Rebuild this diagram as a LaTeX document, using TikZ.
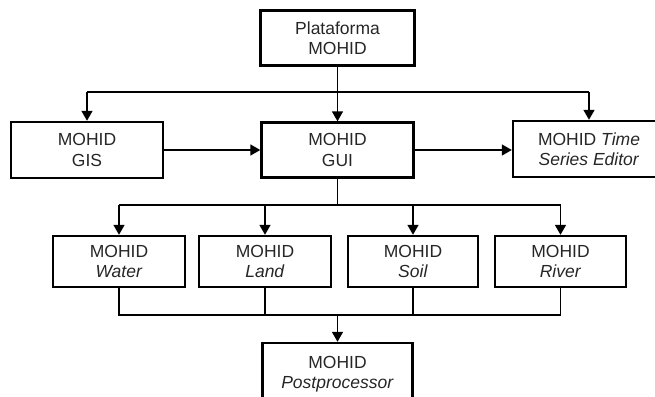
\documentclass[tikz,border=0pt]{standalone}
\usepackage{fontspec}
\setmainfont{Liberation Sans}
\usetikzlibrary{arrows.meta}
\begin{document}
\begin{tikzpicture}[x=1pt,y=-1pt,
  box/.style={draw,line width=2.4pt,align=center,inner sep=0pt,font=\fontsize{17.5}{20.5}\selectfont,text=black!85},
  conn/.style={line width=1.6pt},
  arr/.style={conn,-{Triangle[length=10pt,width=11pt]}}]
\useasboundingbox (0,0) rectangle (655,396);
\clip (0,0) rectangle (655,396);
\node[box,minimum width=154pt,minimum height=55pt] (top) at (337.5,38) {Plataforma\\MOHID};
\node[box,minimum width=152pt,minimum height=56pt] (gis) at (87,150) {MOHID\\GIS};
\node[box,minimum width=152pt,minimum height=55pt] (gui) at (337.5,150) {MOHID\\GUI};
\node[box,minimum width=152pt,minimum height=56pt] (ts) at (589,149) {MOHID \textit{Time}\\\textit{Series Editor}};
\node[box,minimum width=132pt,minimum height=51pt] (water) at (119,261.5) {MOHID\\\textit{Water}};
\node[box,minimum width=132pt,minimum height=51pt] (land) at (265,261.5) {MOHID\\\textit{Land}};
\node[box,minimum width=130pt,minimum height=51pt] (soil) at (413,261.5) {MOHID\\\textit{Soil}};
\node[box,minimum width=131pt,minimum height=51pt] (river) at (560.5,261.5) {MOHID\\\textit{River}};
\node[box,minimum width=150pt,minimum height=62pt] (post) at (337.5,374) {MOHID\\\textit{Postprocessor}};
\coordinate (b1) at (337.5,92);
\coordinate (b2) at (337.5,205);
\coordinate (b3) at (337.5,315);
% top bus
\draw[arr] (top.south) -- (gui.north);
\draw[conn] (gis.north |- b1) -- (ts.north |- b1);
\draw[arr] (gis.north |- b1) -- (gis.north);
\draw[arr] (ts.north |- b1) -- (ts.north);
% horizontal arrows
\draw[arr] (gis.east) -- (gui.west);
\draw[arr] (gui.east) -- (gui.east -| ts.west);
% second bus
\draw[conn] (gui.south) -- (b2);
\draw[conn] (water.north |- b2) -- (river.north |- b2);
\draw[arr] (water.north |- b2) -- (water.north);
\draw[arr] (land.north |- b2) -- (land.north);
\draw[arr] (soil.north |- b2) -- (soil.north);
\draw[arr] (river.north |- b2) -- (river.north);
% third bus
\draw[conn] (water.south) -- (water.south |- b3) -- (river.south |- b3) -- (river.south);
\draw[conn] (land.south) -- (land.south |- b3);
\draw[conn] (soil.south) -- (soil.south |- b3);
\draw[arr] (b3) -- (post.north);
\end{tikzpicture}
\end{document}
